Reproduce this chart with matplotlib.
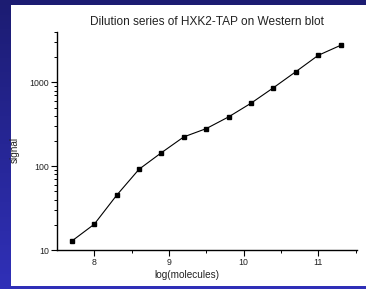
import numpy as np
import matplotlib
matplotlib.use("Agg")
import matplotlib.pyplot as plt
from matplotlib.patches import Rectangle
from matplotlib.ticker import LogLocator, FixedLocator, NullFormatter

x_vals = [7.7, 8.0, 8.3, 8.6, 8.9, 9.2, 9.5, 9.8, 10.1, 10.4, 10.7, 11.0, 11.3]
signal = [12.8, 20.3, 45, 92, 145, 224, 281, 388, 565, 864, 1343, 2105, 2773]
title = "Dilution series of HXK2-TAP on Western blot"
xlabel = "log(molecules)"
ylabel = "signal"
x_ticks = [8, 9, 10, 11]
y_ticks = [10, 100, 1000]

plt.rcParams['font.family'] = ['Liberation Sans', 'DejaVu Sans']

W, H = 366, 289
fig = plt.figure(figsize=(W/100, H/100), dpi=100)

# background gradient
bg = fig.add_axes([0, 0, 1, 1], zorder=-10)
bg.set_axis_off()
grad = np.linspace(0, 1, 256).reshape(-1, 1)
top = np.array([0x1c, 0x1c, 0x72]) / 255
bot = np.array([0x30, 0x30, 0xb8]) / 255
img = top[None, None, :] * (1 - grad[:, :, None]) + bot[None, None, :] * grad[:, :, None]
bg.imshow(img, aspect='auto', extent=[0, 1, 0, 1])
bg.set_xlim(0, 1); bg.set_ylim(0, 1)
bg.add_patch(Rectangle((11/W, 1 - 286/H), 1, (286-5)/H, facecolor='white', edgecolor='none'))

ax = fig.add_axes([57.3/W, 1 - 250/H, (357-57.3)/W, (250-32)/H])
ax.set_facecolor('none')
ax.plot(x_vals, signal, color='black', lw=0.8, marker='s', ms=3.4, mfc='black', mec='black')
ax.set_yscale('log')
ax.set_xlim(7.505, 11.52)
ax.set_ylim(10, 4000)
ax.xaxis.set_major_locator(FixedLocator(x_ticks))
ax.xaxis.set_minor_locator(FixedLocator([8.5, 9.5, 10.5, 11.5]))
ax.yaxis.set_major_locator(FixedLocator(y_ticks))
ax.yaxis.set_minor_locator(LogLocator(base=10, subs=np.arange(2, 10)))
ax.yaxis.set_minor_formatter(NullFormatter())
ax.set_yticklabels([str(v) for v in y_ticks])
ax.set_xticklabels([str(v) for v in x_ticks])
for s in ['top', 'right']:
    ax.spines[s].set_visible(False)
for s in ['left', 'bottom']:
    ax.spines[s].set_linewidth(1.0)
ax.tick_params(which='major', direction='out', length=4, width=0.8, labelsize=6.3, pad=2, colors='black', labelcolor='#222222')
ax.tick_params(which='minor', direction='out', length=2.5, width=0.7)

fig.text(206.5/W, 1 - 21.7/H, title, ha='center', va='center', fontsize=8.6, color='#222222')
fig.text(187/W, 1 - 275/H, xlabel, ha='center', va='center', fontsize=7.2, color='#222222')
fig.text(15/W, 1 - 150/H, ylabel, ha='center', va='center', fontsize=7.2, rotation=90, color='#222222')

fig.savefig('out.png', dpi=100)
